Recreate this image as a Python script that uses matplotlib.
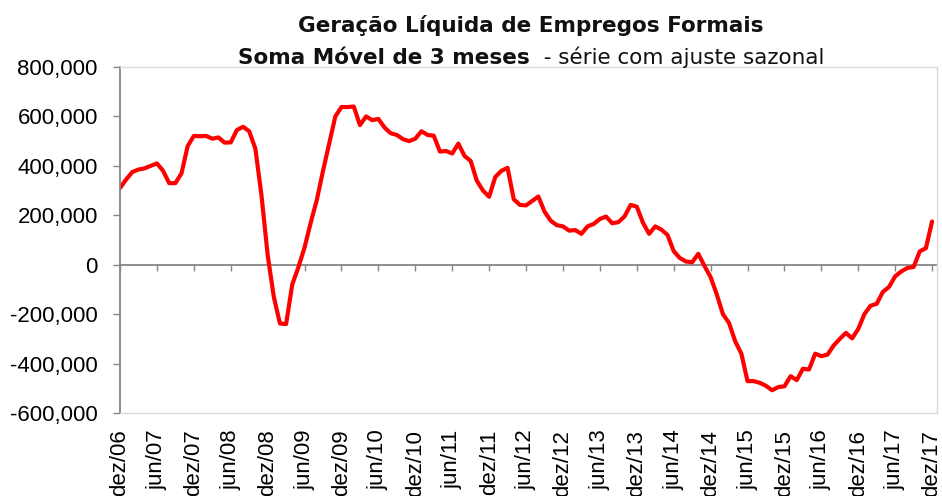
import matplotlib
matplotlib.use("Agg")
import matplotlib.pyplot as plt
from matplotlib.ticker import FuncFormatter, FixedLocator

# Monthly values, dez/06 .. dez/17 (thousands of jobs, 3-month moving sum, seasonally adjusted)
values_k = [
    310, 345, 375, 385, 390, 400, 410, 380, 330, 330,
    370, 480, 521, 520, 521, 510, 515, 494, 495, 545,
    558, 540, 470, 280, 40, -130, -238, -240, -80, -10,
    70, 170, 263, 380, 490, 600, 638, 638, 640, 565,
    600, 585, 590, 555, 532, 525, 508, 500, 510, 540,
    525, 522, 458, 460, 450, 490, 440, 420, 340, 300,
    275, 355, 380, 392, 265, 242, 240, 258, 276, 215,
    178, 160, 155, 138, 140, 125, 155, 165, 185, 195,
    168, 172, 195, 242, 235, 170, 125, 155, 142, 120,
    55, 27, 13, 10, 44, -5, -50, -120, -200, -236,
    -310, -360, -471, -471, -478, -490, -508, -495, -492, -451,
    -467, -421, -424, -360, -370, -364, -327, -300, -276, -298,
    -260, -200, -166, -158, -110, -90, -47, -27, -13, -9,
    54, 67, 175,
]
values = [v * 1000 for v in values_k]

tick_labels = ["dez/06", "jun/07", "dez/07", "jun/08", "dez/08", "jun/09", "dez/09",
               "jun/10", "dez/10", "jun/11", "dez/11", "jun/12", "dez/12", "jun/13",
               "dez/13", "jun/14", "dez/14", "jun/15", "dez/15", "jun/16", "dez/16",
               "jun/17", "dez/17"]
y_ticks = [-600000, -400000, -200000, 0, 200000, 400000, 600000, 800000]

title_1 = "Geração Líquida de Empregos Formais"
title_2a = "Soma Móvel de 3 meses"
title_2b = "  - série com ajuste sazonal"

FONT = ["Liberation Sans", "DejaVu Sans"]
plt.rcParams["font.family"] = FONT

fig = plt.figure(figsize=(9.42, 4.96), dpi=100)
ax = fig.add_axes([120 / 942, 1 - 413 / 496, (937 - 120) / 942, (413 - 67) / 496])

x = list(range(len(values)))
ax.plot(x, values, color="#ff0000", linewidth=3.0, solid_joinstyle="round", solid_capstyle="round")

ax.set_xlim(0, 132.8)
ax.set_ylim(-600000, 800000)

ax.yaxis.set_major_locator(FixedLocator(y_ticks))
ax.yaxis.set_major_formatter(FuncFormatter(lambda v, p: f"{int(v):,}"))
ax.tick_params(axis="y", direction="out", length=5, width=1, color="#868686",
               labelsize=16, pad=11, labelcolor="#000000")

tick_pos = [i * 6 for i in range(len(tick_labels))]
ax.set_xticks(tick_pos)
ax.set_xticklabels(tick_labels, rotation=90, fontsize=16, va="top")
ax.tick_params(axis="x", length=0, pad=12)

for s in ["top", "right", "bottom"]:
    ax.spines[s].set_color("#d9d9d9")
    ax.spines[s].set_linewidth(1)
ax.spines["left"].set_color("#868686")
ax.spines["left"].set_linewidth(1.3)

# zero-line category axis with ticks
sec = ax.secondary_xaxis(600000 / 1400000)
sec.set_xticks(tick_pos)
sec.set_xticklabels([])
sec.tick_params(axis="x", direction="out", length=4, width=1, color="#868686")
sec.spines["bottom"].set_color("#868686")
sec.spines["bottom"].set_linewidth(1.3)

tfam = ["DejaVu Sans"]
TS = 15.5
cx = 531 / 942
fig.text(cx, 1 - 32 / 496, title_1, ha="center", va="baseline", fontsize=TS,
         fontweight="bold", family=tfam, color="#111111")
ta = fig.text(0, 1 - 64 / 496, title_2a, ha="left", va="baseline", fontsize=TS,
              fontweight="bold", family=tfam, color="#111111")
tb = fig.text(0, 1 - 64 / 496, title_2b, ha="left", va="baseline", fontsize=TS,
              fontweight="normal", family=tfam, color="#111111")
fig.canvas.draw()
r = fig.canvas.get_renderer()
wa = ta.get_window_extent(r).width / fig.bbox.width
wb = tb.get_window_extent(r).width / fig.bbox.width
x0 = cx - (wa + wb) / 2
ta.set_x(x0)
tb.set_x(x0 + wa)

fig.savefig("out.png", dpi=100)
